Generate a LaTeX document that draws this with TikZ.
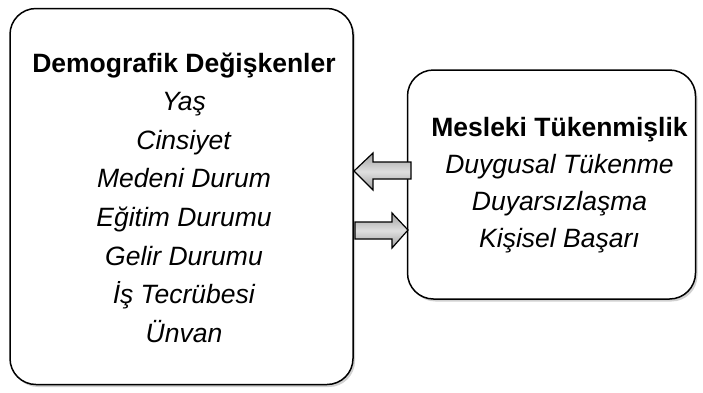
\documentclass[tikz,border=0pt]{standalone}
\usepackage{fontspec}
\setmainfont{Liberation Sans}
\usetikzlibrary{shadows}
\begin{document}
\begin{tikzpicture}[x=1pt,y=-1pt,
  box/.style={draw=black, line width=1.5pt, rounded corners=26pt, fill=white,
    inner sep=0pt,
    drop shadow={shadow xshift=2pt, shadow yshift=-2.5pt, fill=black!30, opacity=0.6}},
  boxtext/.style={align=center, inner sep=0pt},
  blockarrow/.style={draw=black, line width=1.2pt, line join=miter,
    top color=gray!75, bottom color=gray!75, middle color=gray!25}]
\useasboundingbox (0,0) rectangle (703,392);
\node[box, minimum width=343pt, minimum height=376pt] (demo) at (181.5,196.5) {};
\node[boxtext, font=\fontsize{26.5}{38.6}\selectfont] (demotext) at (184,197.5)
  {\textbf{Demografik Değişkenler}\\ \textit{Yaş}\\ \textit{Cinsiyet}\\ \textit{Medeni Durum}\\
   \textit{Eğitim Durumu}\\ \textit{Gelir Durumu}\\ \textit{İş Tecrübesi}\\ \textit{Ünvan}};
\node[box, minimum width=288pt, minimum height=229pt] (mesl) at (551.5,184.5) {};
\node[boxtext, font=\fontsize{26.5}{37}\selectfont] (mesltext) at (559.5,185)
  {\textbf{Mesleki Tükenmişlik}\\ \textit{Duygusal Tükenme}\\ \textit{Duyarsızlaşma}\\ \textit{Kişisel Başarı}};
% left-pointing arrow
\draw[blockarrow] (354,171) -- (373,153) -- (373,162) -- (411,162) -- (411,179)
  -- (373,179) -- (373,190) -- cycle;
% right-pointing arrow
\draw[blockarrow] (408,230) -- (392,213) -- (392,222) -- (355,222) -- (355,239)
  -- (392,239) -- (392,248) -- cycle;
\end{tikzpicture}
\end{document}
